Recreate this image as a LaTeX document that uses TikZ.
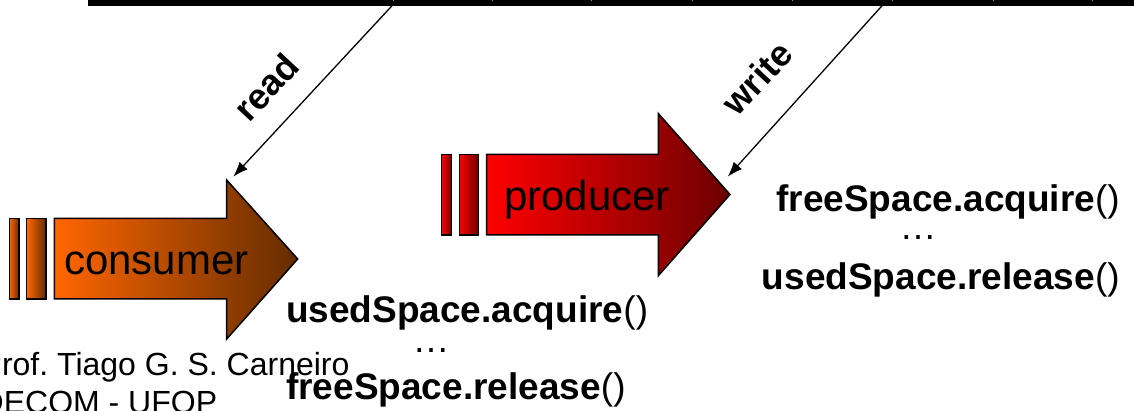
\documentclass[tikz,border=0pt]{standalone}
\usepackage{fontspec}
\setmainfont{Liberation Sans}
\usetikzlibrary{arrows.meta}
\definecolor{orangeL}{RGB}{255,102,0}
\definecolor{orangeR}{RGB}{100,44,0}
\definecolor{redL}{RGB}{255,0,0}
\definecolor{redR}{RGB}{108,0,0}
\definecolor{cellgap}{RGB}{150,150,150}

\begin{document}
\frenchspacing
\begin{tikzpicture}[x=1pt,y=-1pt,
  outline/.style={draw=black,line width=1.5pt,line join=miter},
  conshade/.style={outline,left color=orangeL,right color=orangeR},
  prodshade/.style={outline,left color=redL,right color=redR},
  biglabel/.style={font=\fontsize{42}{50}\selectfont,anchor=base west,inner sep=0pt},
  codeline/.style={font=\fontsize{37}{44}\selectfont,inner sep=0pt},
  flowlabel/.style={font=\fontsize{36}{43}\selectfont\bfseries,rotate=47,inner sep=0pt},
  access/.style={line width=1.3pt,-{Latex[length=15pt,width=11pt]}},
  credit/.style={font=\fontsize{32}{38}\selectfont,anchor=base west,inner sep=0pt}]

\useasboundingbox (0,0) rectangle (1134,411);

% shared buffer (lower edge of the table)
\fill[black] (88,0) rectangle (1134,6);
\foreach \cx in {393,492,591,692,792,892,993,1092}
  \draw[cellgap,line width=0.8pt] (\cx,0) -- (\cx,1.5);
\coordinate (readsrc) at (392.7,5);
\coordinate (writesrc) at (882.7,5);

% consumer: striped block arrow
\path[conshade] (9.3,218.5) rectangle (19,299);
\path[conshade] (26.7,218.5) rectangle (46,299);
\path[conshade] (54.3,218.5) -- (226.7,218.5) -- (226.7,180) -- (297.7,259)
  -- (226.7,339) -- (226.7,299) -- (54.3,299) -- cycle;
\node[biglabel] (consumer) at (64,274.3) {consumer};
\coordinate (constip) at (233.3,176.7);

% producer: striped block arrow
\path[prodshade] (441.7,154.3) rectangle (451.7,235);
\path[prodshade] (459.3,154.3) rectangle (478.3,235);
\path[prodshade] (486.7,154.3) -- (658.3,154.3) -- (658.3,113.5) -- (730,194.5)
  -- (658.3,275.7) -- (658.3,235) -- (486.7,235) -- cycle;
\node[biglabel] (producer) at (504,210.7) {producer};
\coordinate (prodtip) at (727.7,176.7);

% access to the buffer
\draw[access] (readsrc) -- (constip);
\draw[access] (writesrc) -- (prodtip);
\node[flowlabel] (readlbl) at (266,87) {read};
\node[flowlabel] (writelbl) at (757,78) {write};

% consumer code
\node[codeline,anchor=base west] (uacq) at (286,323) {\textbf{usedSpace.acquire}()};
\node[codeline,anchor=base] (cdots) at (431,352) {…};
\node[codeline,anchor=base west] (frel) at (286,399) {\textbf{freeSpace.release}()};

% producer code
\node[codeline,anchor=base east] (facq) at (1120,211.7) {\textbf{freeSpace.acquire}()};
\node[codeline,anchor=base] (pdots) at (918,240) {…};
\node[codeline,anchor=base east] (urel) at (1120,290) {\textbf{usedSpace.release}()};

% author
\node[credit] (prof) at (-19.5,375) {Prof. Tiago G. S. Carneiro};
\node[credit] (dept) at (-19.5,413.4) {DECOM - UFOP};
\end{tikzpicture}
\end{document}
